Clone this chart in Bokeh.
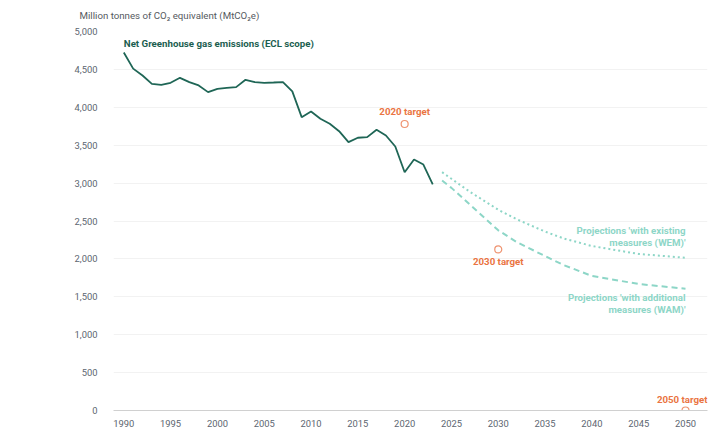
from bokeh.plotting import figure
from bokeh.models import Range1d, FixedTicker, NumeralTickFormatter
from bokeh.core.properties import value
from bokeh.embed import file_html
from bokeh.resources import INLINE

# ---- data ----
hist_years = list(range(1990, 2024))
hist_values = [4723, 4510, 4420, 4310, 4297, 4323, 4389, 4332, 4288, 4200,
               4244, 4255, 4266, 4363, 4332, 4323, 4327, 4332, 4210, 3870,
               3945, 3848, 3782, 3685, 3540, 3598, 3606, 3703, 3628, 3483,
               3144, 3311, 3245, 2982]

proj_years = [2024, 2025, 2027, 2030, 2032, 2035, 2037, 2040, 2045, 2050]
wem_values = [3144, 3057, 2883, 2648, 2521, 2360, 2269, 2170, 2065, 2015]
wam_values = [3034, 2937, 2713, 2377, 2220, 2037, 1918, 1775, 1669, 1606]

target_years = [2020, 2030, 2050]
target_values = [3780, 2125, 0]
target_labels = ["2020 target", "2030 target", "2050 target"]

y_ticks = list(range(0, 5001, 500))
x_ticks = list(range(1990, 2051, 5))

title_text = "Million tonnes of CO\u2082 equivalent (MtCO\u2082e)"
hist_label = "Net Greenhouse gas emissions (ECL scope)"
wem_label = ["Projections 'with existing", "measures (WEM)'"]
wam_label = ["Projections 'with additional", "measures (WAM)'"]

# ---- styles ----
FONT = "Roboto"
LBL = "9.7px"
AX = "9.4px"
HIST_C = "#1f6656"
PROJ_C = "#8dd6c7"
TGT_C = "#ea7442"
AXIS_TXT = "#5c6570"

p = figure(width=710, height=430, output_backend="svg", toolbar_location=None,
           x_range=Range1d(1988.900, 2052.350), y_range=Range1d(0, 5000),
           min_border_left=113, min_border_right=3, min_border_top=31,
           min_border_bottom=20)
p.outline_line_color = None
p.background_fill_color = "white"
p.border_fill_color = "white"

p.title.text = title_text
p.title.align = "left"
p.title.vertical_align = "top"
p.title.offset = -34
p.title.text_font = FONT
p.title.text_font_size = LBL
p.title.text_font_style = "normal"
p.title.text_color = "#555a60"
p.title.text_line_height = 0.6
p.title.standoff = 18

p.xgrid.grid_line_color = None
p.ygrid.grid_line_color = "#f2f2f2"
p.ygrid.ticker = FixedTicker(ticks=y_ticks)

p.yaxis.ticker = FixedTicker(ticks=y_ticks)
p.yaxis.formatter = NumeralTickFormatter(format="0,0")
p.yaxis.axis_line_color = None
p.yaxis.major_tick_line_color = None
p.yaxis.minor_tick_line_color = None
p.yaxis.major_label_standoff = 10
p.yaxis.major_label_text_font = FONT
p.yaxis.major_label_text_font_size = AX
p.yaxis.major_label_text_color = AXIS_TXT

p.xaxis.ticker = FixedTicker(ticks=x_ticks)
p.xaxis.axis_line_color = "#d0d0d0"
p.xaxis.major_tick_line_color = None
p.xaxis.minor_tick_line_color = None
p.xaxis.major_label_standoff = 3
p.xaxis.major_label_text_font = FONT
p.xaxis.major_label_text_font_size = AX
p.xaxis.major_label_text_color = AXIS_TXT

# lines
p.line(hist_years, hist_values, line_color=HIST_C, line_width=1.8)
p.line(proj_years, wem_values, line_color=PROJ_C, line_width=2, line_dash="2 3")
p.line(proj_years, wam_values, line_color=PROJ_C, line_width=2, line_dash="6 4")

# targets
p.scatter(target_years, target_values, marker="circle", size=7,
          fill_color="white", line_color="#ef9370", line_width=1.2)

p.text([target_years[0]], [target_values[0]], text=[target_labels[0]],
       text_font=value(FONT), text_font_size=LBL, text_font_style="bold",
       text_color=TGT_C, text_align="center", text_baseline="middle", y_offset=-12)
p.text([target_years[1]], [target_values[1]], text=[target_labels[1]],
       text_font=value(FONT), text_font_size=LBL, text_font_style="bold",
       text_color=TGT_C, text_align="center", text_baseline="middle", y_offset=12)
p.text([target_years[2]], [target_values[2]], text=[target_labels[2]],
       text_font=value(FONT), text_font_size=LBL, text_font_style="bold",
       text_color=TGT_C, text_align="right", text_baseline="middle",
       x_offset=22, y_offset=-11)

# series labels
p.text([hist_years[0]], [4842], text=[hist_label],
       text_font=value(FONT), text_font_size=LBL, text_font_style="bold",
       text_color="#1b5e4f", text_align="left", text_baseline="middle")

for i, t in enumerate(wem_label):
    p.text([proj_years[-1]], [wem_values[-1]], text=[t],
           text_font=value(FONT), text_font_size=LBL, text_font_style="bold",
           text_color=PROJ_C, text_align="right", text_baseline="middle",
           y_offset=-27 + 12 * i)
for i, t in enumerate(wam_label):
    p.text([proj_years[-1]], [wam_values[-1]], text=[t],
           text_font=value(FONT), text_font_size=LBL, text_font_style="bold",
           text_color=PROJ_C, text_align="right", text_baseline="middle",
           y_offset=9 + 12 * i)

open("out.html", "w").write(file_html(p, INLINE))
